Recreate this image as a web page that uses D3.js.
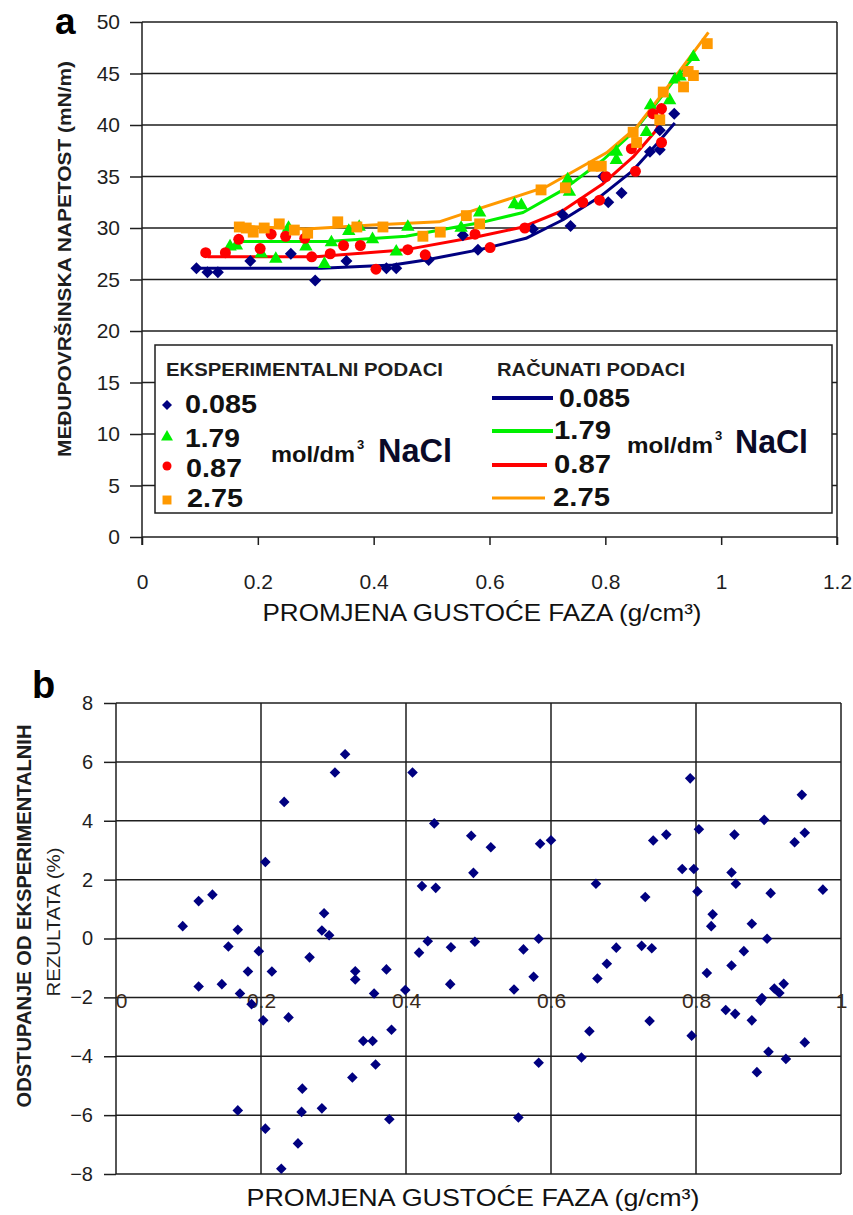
<!DOCTYPE html>
<html>
<head>
<meta charset="utf-8">
<script src="https://cdn.jsdelivr.net/npm/d3@7"></script>
<style>
  body { margin: 0; background: #fff; }
  svg { display: block; font-family: "Liberation Sans", Arial, sans-serif; }
</style>
</head>
<body>
<div id="chart"></div>
<script>
// ---- panel a: experimental interfacial tension (mN/m) vs density difference (g/cm3)
const seriesKeys = ["0.085", "1.79", "0.87", "2.75"];

const exp085X = [0.094, 0.113, 0.131, 0.187, 0.257, 0.299, 0.353, 0.422, 0.439, 0.495, 0.554, 0.580, 0.675, 0.726, 0.740, 0.796, 0.805, 0.828, 0.877, 0.894, 0.894, 0.919];
const exp085Y = [26.1, 25.7, 25.7, 26.8, 27.5, 24.9, 26.8, 26.1, 26.1, 26.9, 29.3, 27.9, 29.9, 31.3, 30.2, 35.0, 32.5, 33.4, 37.4, 37.6, 39.5, 41.1];

const exp179X = [0.152, 0.163, 0.206, 0.231, 0.253, 0.283, 0.315, 0.327, 0.357, 0.375, 0.398, 0.439, 0.459, 0.551, 0.583, 0.643, 0.655, 0.735, 0.738, 0.819, 0.819, 0.871, 0.878, 0.911, 0.920, 0.929, 0.952];
const exp179Y = [28.2, 28.3, 27.5, 27.0, 30.0, 28.2, 26.5, 28.6, 29.7, 30.1, 28.9, 27.7, 30.1, 30.0, 31.5, 32.3, 32.2, 34.7, 33.5, 37.4, 36.6, 39.3, 41.9, 42.4, 44.4, 44.7, 46.6];

const exp087X = [0.110, 0.144, 0.167, 0.204, 0.223, 0.248, 0.281, 0.293, 0.325, 0.348, 0.377, 0.404, 0.459, 0.489, 0.575, 0.601, 0.661, 0.761, 0.790, 0.801, 0.845, 0.852, 0.882, 0.897, 0.897];
const exp087Y = [27.6, 27.6, 28.9, 28.0, 29.4, 29.2, 29.0, 27.2, 27.5, 28.3, 28.3, 26.0, 27.9, 27.4, 29.4, 28.1, 30.0, 32.5, 32.7, 35.0, 37.7, 35.5, 41.1, 38.3, 41.6];

const exp275X = [0.168, 0.180, 0.192, 0.211, 0.237, 0.263, 0.286, 0.338, 0.371, 0.416, 0.485, 0.515, 0.560, 0.583, 0.689, 0.731, 0.779, 0.793, 0.848, 0.854, 0.894, 0.900, 0.935, 0.943, 0.952, 0.976];
const exp275Y = [30.1, 30.0, 29.6, 30.0, 30.4, 29.8, 29.5, 30.6, 30.1, 30.1, 29.2, 29.6, 31.2, 30.4, 33.7, 33.9, 36.0, 36.0, 39.3, 38.3, 40.5, 43.2, 43.7, 45.2, 44.8, 47.9];

// calculated curves
const calc085X = [0.10, 0.31, 0.433, 0.49, 0.583, 0.663, 0.727, 0.79, 0.848, 0.888, 0.92];
const calc085Y = [26.1, 26.1, 26.4, 26.9, 27.9, 29.0, 30.8, 33.0, 35.6, 38.1, 40.2];

const calc179X = [0.159, 0.32, 0.456, 0.583, 0.658, 0.727, 0.796, 0.848, 0.888, 0.928, 0.952];
const calc179Y = [28.7, 28.7, 29.2, 30.5, 31.5, 33.7, 36.6, 39.3, 42.1, 45.0, 46.6];

const calc087X = [0.113, 0.30, 0.456, 0.583, 0.658, 0.727, 0.796, 0.848, 0.888, 0.90];
const calc087Y = [27.2, 27.2, 27.9, 29.2, 30.1, 31.7, 34.3, 36.9, 39.5, 41.3];

const calc275X = [0.162, 0.283, 0.398, 0.513, 0.583, 0.698, 0.802, 0.854, 0.894, 0.929, 0.978];
const calc275Y = [30.2, 29.9, 30.3, 30.6, 31.9, 34.0, 37.3, 39.8, 42.7, 45.3, 49.0];

const tensionTicks = [0, 5, 10, 15, 20, 25, 30, 35, 40, 45, 50];
const densityTicksA = [0, 0.2, 0.4, 0.6, 0.8, 1, 1.2];

// ---- panel b: deviation from experimental results (%)
const devX = [0.092, 0.114, 0.114, 0.133, 0.146, 0.155, 0.168, 0.168, 0.171, 0.182, 0.187, 0.197, 0.203, 0.206, 0.206, 0.215, 0.228, 0.232, 0.238, 0.251, 0.256, 0.257, 0.267, 0.284, 0.284, 0.287, 0.294, 0.302, 0.316, 0.326, 0.330, 0.330, 0.341, 0.354, 0.356, 0.358, 0.373, 0.377, 0.380, 0.399, 0.409, 0.418, 0.422, 0.430, 0.439, 0.441, 0.461, 0.462, 0.490, 0.493, 0.495,
  0.517, 0.549, 0.555, 0.562, 0.576, 0.583, 0.583, 0.585, 0.600, 0.642, 0.653, 0.662, 0.664, 0.677, 0.690, 0.725, 0.730, 0.736, 0.739, 0.741, 0.759, 0.781, 0.792, 0.794, 0.797, 0.802, 0.804, 0.815, 0.821, 0.823, 0.841, 0.849, 0.849, 0.853, 0.854, 0.855, 0.866, 0.877, 0.877, 0.884, 0.889, 0.891, 0.894, 0.898, 0.900, 0.903, 0.908, 0.915, 0.921, 0.924, 0.936, 0.946, 0.950, 0.950, 0.975];
const devY = [0.42, 1.27, -1.63, 1.49, -1.55, -0.27, 0.30, -5.84, -1.87, -1.12, -2.23, -0.43, -2.78, 2.60, -6.46, -1.12, -7.82, 4.64, -2.68, -6.96, -5.89, -5.10, -0.64, -5.77, 0.27, 0.86, 0.11, 5.64, 6.26, -4.72, -1.11, -1.39, -3.48, -3.48, -1.87, -4.28, -1.05, -6.14, -3.10, -1.75, 5.64, -0.48, 1.78, -0.09, 3.91, 1.72, -1.55, -0.30, 3.49, 2.23, -0.11,
  3.10, -1.73, -6.08, -0.37, -1.30, -0.01, -4.22, 3.22, 3.34, -4.04, -3.15, 1.86, -1.36, -0.86, -0.31, -0.25, 1.41, -2.80, -0.33, 3.33, 3.53, 2.36, 5.44, -3.30, 2.36, 1.60, 3.71, -1.17, 0.42, 0.82, -2.43, -0.92, 2.24, 3.53, -2.56, 1.86, -0.43, 0.50, -2.78, -4.54, -2.11, -2.02, 4.03, -0.01, -3.85, 1.54, -1.70, -1.85, -1.54, -4.09, 3.27, 4.88, -3.53, 3.59, 1.66];

const deviationTicks = [-8, -6, -4, -2, 0, 2, 4, 6, 8];
const densityTicksB = [0, 0.2, 0.4, 0.6, 0.8, 1];

// excel style diamond (square turned 45 degrees)
const symbolExcelDiamond = {
    draw(context, size) {
        const r = Math.sqrt(size / 2);
        context.moveTo(0, -r);
        context.lineTo(r, 0);
        context.lineTo(0, r);
        context.lineTo(-r, 0);
        context.closePath();
    }
};

const INK = "#1e1e1e";

class TensionChart {
    constructor(svg) {
        this.svg = svg;
        this.initVis();
    }

    initVis() {
        let vis = this;

        vis.left = 142;
        vis.right = 837;
        vis.top = 22;
        vis.bottom = 537;

        vis.x = d3.scaleLinear().domain([0, 1.2]).range([vis.left, vis.right]);
        vis.y = d3.scaleLinear().domain([0, 50]).range([vis.bottom, vis.top]);

        vis.color = d3.scaleOrdinal().domain(seriesKeys)
            .range(["#000080", "#00f000", "#ff0000", "#ff9900"]);
        vis.shape = d3.scaleOrdinal().domain(seriesKeys)
            .range([symbolExcelDiamond, d3.symbolTriangle, d3.symbolCircle, d3.symbolSquare]);
        vis.size = d3.scaleOrdinal().domain(seriesKeys).range([72, 78, 95, 118]);

        vis.g = vis.svg.append("g");

        vis.wrangleData();
    }

    wrangleData() {
        let vis = this;

        const expX = [exp085X, exp179X, exp087X, exp275X];
        const expY = [exp085Y, exp179Y, exp087Y, exp275Y];
        const calcX = [calc085X, calc179X, calc087X, calc275X];
        const calcY = [calc085Y, calc179Y, calc087Y, calc275Y];

        vis.displayData = seriesKeys.map((key, i) => ({
            key: key,
            points: expX[i].map((d, j) => ({ x: d, y: expY[i][j] })),
            curve: calcX[i].map((d, j) => ({ x: d, y: calcY[i][j] }))
        }));

        vis.updateVis();
    }

    updateVis() {
        let vis = this;

        // grid
        vis.g.append("g")
            .selectAll("line")
            .data(tensionTicks.filter(d => d > 0))
            .enter()
            .append("line")
            .attr("x1", vis.left)
            .attr("x2", vis.right)
            .attr("y1", d => vis.y(d))
            .attr("y2", d => vis.y(d))
            .attr("stroke", INK)
            .attr("stroke-width", 1.5);

        vis.g.append("line")
            .attr("x1", vis.right).attr("x2", vis.right)
            .attr("y1", vis.top).attr("y2", vis.bottom + 8)
            .attr("stroke", INK).attr("stroke-width", 1.5);

        // axes
        const yAxis = vis.g.append("g")
            .attr("transform", `translate(${vis.left},0)`)
            .call(d3.axisLeft(vis.y).tickValues(tensionTicks).tickSize(12).tickPadding(10));
        const xAxis = vis.g.append("g")
            .attr("transform", `translate(0,${vis.bottom})`)
            .call(d3.axisBottom(vis.x).tickValues(densityTicksA).tickFormat(d => d).tickSize(8).tickPadding(29));

        [yAxis, xAxis].forEach(ax => {
            ax.attr("font-family", null).attr("font-size", 21);
            ax.selectAll("path.domain").attr("stroke", INK).attr("stroke-width", 1.5);
            ax.selectAll(".tick line").attr("stroke", INK).attr("stroke-width", 1.5);
            ax.selectAll(".tick text").attr("fill", INK);
        });
        xAxis.select("path.domain").attr("d", `M${vis.left},0H${vis.right}`);
        yAxis.select("path.domain").attr("d", `M0,${vis.top}V${vis.bottom + 8}`);

        // calculated curves
        const line = d3.line().x(d => vis.x(d.x)).y(d => vis.y(d.y));

        vis.g.append("g")
            .selectAll("path")
            .data(vis.displayData)
            .enter()
            .append("path")
            .attr("d", d => line(d.curve))
            .attr("fill", "none")
            .attr("stroke", d => vis.color(d.key))
            .attr("stroke-width", 3)
            .attr("stroke-linejoin", "round");

        // experimental points
        vis.displayData.forEach(s => {
            vis.g.append("g")
                .selectAll("path")
                .data(s.points)
                .enter()
                .append("path")
                .attr("transform", d => `translate(${vis.x(d.x)},${vis.y(d.y)})`)
                .attr("d", d3.symbol().type(vis.shape(s.key)).size(vis.size(s.key)))
                .attr("fill", vis.color(s.key));
        });

        vis.drawLegend();
        vis.drawTitles();
    }

    drawLegend() {
        let vis = this;

        const legend = vis.g.append("g").attr("class", "legend");

        legend.append("rect")
            .attr("x", 155).attr("y", 345)
            .attr("width", 677).attr("height", 168)
            .attr("fill", "#fff")
            .attr("stroke", INK)
            .attr("stroke-width", 1.5);

        const heading = (x, txt, len) => legend.append("text")
            .attr("x", x).attr("y", 376)
            .attr("font-size", 18).attr("font-weight", "bold")
            .attr("fill", INK)
            .attr("textLength", len).attr("lengthAdjust", "spacingAndGlyphs")
            .text(txt);
        heading(166, "EKSPERIMENTALNI PODACI", 277);
        heading(497, "RAČUNATI PODACI", 188);

        // marker column
        const markerY = [405, 437, 466, 500];
        const labelLeft = [[185, 413, 72], [185, 447, 55], [186, 477, 56], [187, 507, 56]];
        const markerSize = d3.scaleOrdinal().domain(seriesKeys).range([50, 62, 64, 80]);

        seriesKeys.forEach((key, i) => {
            legend.append("path")
                .attr("transform", `translate(167,${markerY[i]})`)
                .attr("d", d3.symbol().type(vis.shape(key)).size(markerSize(key)))
                .attr("fill", vis.color(key));
            legend.append("text")
                .attr("x", labelLeft[i][0]).attr("y", labelLeft[i][1])
                .attr("font-size", 25).attr("font-weight", "bold").attr("fill", "#111")
                .attr("textLength", labelLeft[i][2]).attr("lengthAdjust", "spacingAndGlyphs")
                .text(key);
        });

        // line column
        const lineY = [398, 431, 465, 498];
        const lineEnd = [553, 553, 547, 545];
        const lineWidth = [4, 4, 4, 3];
        const labelRight = [[559, 407, 71], [554, 439, 57], [554, 473, 57], [553, 506, 57]];

        seriesKeys.forEach((key, i) => {
            legend.append("line")
                .attr("x1", 492).attr("x2", lineEnd[i])
                .attr("y1", lineY[i]).attr("y2", lineY[i])
                .attr("stroke", vis.color(key))
                .attr("stroke-width", lineWidth[i]);
            legend.append("text")
                .attr("x", labelRight[i][0]).attr("y", labelRight[i][1])
                .attr("font-size", 25).attr("font-weight", "bold").attr("fill", "#111")
                .attr("textLength", labelRight[i][2]).attr("lengthAdjust", "spacingAndGlyphs")
                .text(key);
        });

        // unit labels
        const unit = (x, y, unitLen, nacl, naclLen) => {
            legend.append("text")
                .attr("x", x).attr("y", y)
                .attr("font-size", 22).attr("font-weight", "bold").attr("fill", "#111")
                .attr("textLength", unitLen).attr("lengthAdjust", "spacingAndGlyphs")
                .text("mol/dm");
            legend.append("text")
                .attr("x", x + unitLen + 2).attr("y", y - 13)
                .attr("font-size", 13).attr("font-weight", "bold").attr("fill", "#111")
                .text("3");
            legend.append("text")
                .attr("x", nacl).attr("y", y)
                .attr("font-size", 33).attr("font-weight", "bold").attr("fill", "#0a0a28")
                .attr("textLength", naclLen).attr("lengthAdjust", "spacingAndGlyphs")
                .text("NaCl");
        };
        unit(271, 462, 84, 378, 74);
        unit(627, 453, 86, 735, 73);
    }

    drawTitles() {
        let vis = this;

        vis.g.append("text")
            .attr("x", 55).attr("y", 34)
            .attr("font-size", 37).attr("font-weight", "bold").attr("fill", "#000")
            .text("a");

        vis.g.append("text")
            .attr("transform", "translate(71,259) rotate(-90)")
            .attr("text-anchor", "middle")
            .attr("font-size", 18).attr("font-weight", "bold").attr("fill", INK)
            .attr("textLength", 396).attr("lengthAdjust", "spacingAndGlyphs")
            .text("MEĐUPOVRŠINSKA NAPETOST  (mN/m)");

        vis.g.append("text")
            .attr("x", 482).attr("y", 621)
            .attr("text-anchor", "middle")
            .attr("font-size", 24).attr("fill", "#111")
            .attr("textLength", 439).attr("lengthAdjust", "spacingAndGlyphs")
            .text("PROMJENA GUSTOĆE FAZA (g/cm³)");
    }
}

class DeviationChart {
    constructor(svg) {
        this.svg = svg;
        this.initVis();
    }

    initVis() {
        let vis = this;

        vis.left = 116;
        vis.right = 841;
        vis.top = 703;
        vis.bottom = 1174;

        vis.x = d3.scaleLinear().domain([0, 1]).range([vis.left, vis.right]);
        vis.y = d3.scaleLinear().domain([-8, 8]).range([vis.bottom, vis.top]);

        vis.g = vis.svg.append("g");

        vis.displayData = devX.map((d, i) => ({ x: d, y: devY[i] }));

        vis.updateVis();
    }

    updateVis() {
        let vis = this;

        // horizontal grid
        vis.g.append("g")
            .selectAll("line")
            .data(deviationTicks)
            .enter()
            .append("line")
            .attr("x1", vis.left).attr("x2", vis.right)
            .attr("y1", d => vis.y(d)).attr("y2", d => vis.y(d))
            .attr("stroke", INK).attr("stroke-width", 1.5);

        // vertical grid incl. frame
        vis.g.append("g")
            .selectAll("line")
            .data(densityTicksB)
            .enter()
            .append("line")
            .attr("x1", d => vis.x(d)).attr("x2", d => vis.x(d))
            .attr("y1", vis.top).attr("y2", vis.bottom)
            .attr("stroke", INK).attr("stroke-width", 1.5);

        const yAxis = vis.g.append("g")
            .attr("transform", `translate(${vis.left},0)`)
            .call(d3.axisLeft(vis.y).tickValues(deviationTicks).tickSize(12).tickPadding(11));
        yAxis.select("path.domain").remove();
        yAxis.attr("font-family", null).attr("font-size", 20);
        yAxis.selectAll(".tick line").attr("stroke", INK).attr("stroke-width", 1.5);
        yAxis.selectAll(".tick text").attr("fill", INK);

        // x labels sit on the -2 grid line
        const xAxis = vis.g.append("g")
            .attr("transform", `translate(0,${vis.y(-2)})`)
            .call(d3.axisBottom(vis.x).tickValues(densityTicksB).tickFormat(d => d).tickSize(0));
        xAxis.select("path.domain").remove();
        xAxis.attr("font-family", null).attr("font-size", 21);
        xAxis.selectAll(".tick text")
            .attr("y", 3).attr("dy", "0.35em")
            .attr("fill", "#3a2a1a");
        xAxis.selectAll(".tick").filter(d => d === 0).select("text").attr("x", 5);

        vis.g.append("g")
            .selectAll("path")
            .data(vis.displayData)
            .enter()
            .append("path")
            .attr("transform", d => `translate(${vis.x(d.x)},${vis.y(d.y)})`)
            .attr("d", d3.symbol().type(symbolExcelDiamond).size(56))
            .attr("fill", "#000080");

        // titles
        vis.g.append("text")
            .attr("x", 32).attr("y", 698)
            .attr("font-size", 38).attr("font-weight", "bold").attr("fill", "#000")
            .text("b");

        vis.g.append("text")
            .attr("transform", "translate(31,916) rotate(-90)")
            .attr("text-anchor", "middle")
            .attr("font-size", 20).attr("font-weight", "bold").attr("fill", INK)
            .attr("textLength", 383).attr("lengthAdjust", "spacingAndGlyphs")
            .text("ODSTUPANJE OD EKSPERIMENTALNIH");

        vis.g.append("text")
            .attr("transform", "translate(60,922) rotate(-90)")
            .attr("text-anchor", "middle")
            .attr("font-size", 18).attr("fill", INK)
            .attr("textLength", 149).attr("lengthAdjust", "spacingAndGlyphs")
            .text("REZULTATA (%)");

        vis.g.append("text")
            .attr("x", 473).attr("y", 1206)
            .attr("text-anchor", "middle")
            .attr("font-size", 24).attr("fill", "#111")
            .attr("textLength", 453).attr("lengthAdjust", "spacingAndGlyphs")
            .text("PROMJENA GUSTOĆE FAZA (g/cm³)");
    }
}

const svg = d3.select("#chart")
    .append("svg")
    .attr("width", 853)
    .attr("height", 1215)
    .attr("viewBox", "0 0 853 1215");

new TensionChart(svg);
new DeviationChart(svg);
</script>
</body>
</html>
